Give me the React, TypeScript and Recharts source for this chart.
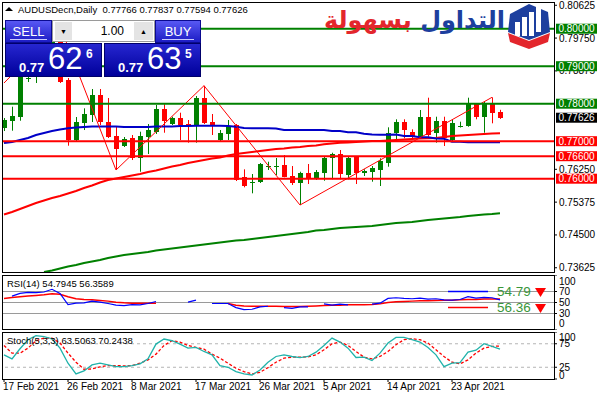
import React from 'react';
import { ComposedChart, Bar, Line, XAxis, YAxis, ReferenceLine } from 'recharts';

const UI = "'Liberation Sans', Arial, sans-serif";

const barDates = [
  '17 Feb 2021', '18 Feb 2021', '19 Feb 2021', '21 Feb 2021', '22 Feb 2021', '23 Feb 2021', '24 Feb 2021', '25 Feb 2021', '26 Feb 2021', '28 Feb 2021',
  '1 Mar 2021', '2 Mar 2021', '3 Mar 2021', '4 Mar 2021', '5 Mar 2021', '7 Mar 2021', '8 Mar 2021', '9 Mar 2021', '10 Mar 2021', '11 Mar 2021',
  '12 Mar 2021', '14 Mar 2021', '15 Mar 2021', '16 Mar 2021', '17 Mar 2021', '18 Mar 2021', '19 Mar 2021', '21 Mar 2021', '22 Mar 2021', '23 Mar 2021',
  '24 Mar 2021', '25 Mar 2021', '26 Mar 2021', '28 Mar 2021', '29 Mar 2021', '30 Mar 2021', '31 Mar 2021', '1 Apr 2021', '2 Apr 2021', '4 Apr 2021',
  '5 Apr 2021', '6 Apr 2021', '7 Apr 2021', '8 Apr 2021', '9 Apr 2021', '11 Apr 2021', '12 Apr 2021', '13 Apr 2021', '14 Apr 2021', '15 Apr 2021',
  '16 Apr 2021', '18 Apr 2021', '19 Apr 2021', '20 Apr 2021', '21 Apr 2021', '22 Apr 2021', '23 Apr 2021', '25 Apr 2021', '26 Apr 2021', '27 Apr 2021',
  '28 Apr 2021', '29 Apr 2021', '30 Apr 2021',
];
const dateTicks = [0, 8, 16, 24, 32, 40, 48, 56];

const open = [
  0.77352, 0.77546, 0.77653, 0.78672, 0.78738, 0.79165, 0.79272, 0.79752, 0.78632, 0.77032,
  0.77485, 0.77698, 0.78232, 0.77512, 0.77138, 0.76872, 0.77085, 0.76544, 0.77120, 0.77253,
  0.77850, 0.77458, 0.77610, 0.77466, 0.77432, 0.78160, 0.77520, 0.77032, 0.77192, 0.77432,
  0.76037, 0.75885, 0.75920, 0.76325, 0.76330, 0.76365, 0.76072, 0.75893, 0.76160, 0.76010,
  0.76160, 0.76544, 0.76658, 0.76098, 0.76570, 0.76144, 0.76186, 0.76232, 0.76426, 0.77226,
  0.77520, 0.77253, 0.77120, 0.77653, 0.77210, 0.77538, 0.77032, 0.77370, 0.77405, 0.77984,
  0.77653, 0.77984, 0.77766,
];
const high = [
  0.77618, 0.77920, 0.78818, 0.78712, 0.79272, 0.79485, 0.79832, 0.80072, 0.78685, 0.77645,
  0.77877, 0.78392, 0.78392, 0.78152, 0.77378, 0.77112, 0.77165, 0.77253, 0.77458, 0.77965,
  0.77984, 0.77653, 0.77760, 0.77565, 0.78205, 0.78480, 0.77725, 0.77298, 0.77565, 0.77458,
  0.76250, 0.76125, 0.76418, 0.76453, 0.76552, 0.76632, 0.76338, 0.76186, 0.76392, 0.76232,
  0.76605, 0.76693, 0.76765, 0.76605, 0.76605, 0.76250, 0.76338, 0.76544, 0.77370, 0.77584,
  0.77584, 0.77317, 0.77832, 0.78160, 0.77653, 0.77653, 0.77565, 0.77520, 0.78160, 0.78010,
  0.78053, 0.78170, 0.77837,
];
const low = [
  0.77272, 0.77280, 0.77546, 0.78578, 0.78552, 0.79005, 0.79112, 0.78552, 0.76880, 0.77005,
  0.77298, 0.77512, 0.77432, 0.77085, 0.76232, 0.76845, 0.76498, 0.76186, 0.76658, 0.77192,
  0.77226, 0.77432, 0.77032, 0.76960, 0.76960, 0.77458, 0.77165, 0.77005, 0.77032, 0.75938,
  0.75770, 0.75610, 0.75885, 0.76232, 0.76098, 0.76037, 0.75832, 0.75298, 0.75858, 0.75965,
  0.75946, 0.75984, 0.75984, 0.75984, 0.75858, 0.76072, 0.75920, 0.75805, 0.76320, 0.77032,
  0.77077, 0.77085, 0.77077, 0.77120, 0.76960, 0.76872, 0.76986, 0.77365, 0.77386, 0.77584,
  0.77226, 0.77477, 0.77594,
];
const close = [
  0.77565, 0.77680, 0.78738, 0.78698, 0.79165, 0.79272, 0.79752, 0.78586, 0.77032, 0.77520,
  0.77725, 0.78232, 0.77512, 0.77120, 0.76784, 0.77058, 0.76544, 0.77138, 0.77298, 0.77850,
  0.77546, 0.77610, 0.77432, 0.77450, 0.78160, 0.77493, 0.77413, 0.77226, 0.77405, 0.75965,
  0.75805, 0.75904, 0.76392, 0.76346, 0.76341, 0.76053, 0.75893, 0.76144, 0.75984, 0.76186,
  0.76544, 0.76658, 0.76125, 0.76544, 0.76160, 0.76213, 0.76277, 0.76480, 0.77226, 0.77520,
  0.77298, 0.77138, 0.77653, 0.77165, 0.77538, 0.77077, 0.77493, 0.77405, 0.77984, 0.77653,
  0.77984, 0.77744, 0.77626,
];

// moving averages (blue fast, red mid, green slow)
const maBlue = [
  0.76952, 0.76978, 0.77032, 0.77085, 0.77165, 0.77218, 0.77272, 0.77312, 0.77344, 0.77365,
  0.77378, 0.77392, 0.77392, 0.77392, 0.77392, 0.77378, 0.77378, 0.77378, 0.77378, 0.77392,
  0.77392, 0.77392, 0.77405, 0.77405, 0.77413, 0.77413, 0.77413, 0.77413, 0.77405, 0.77386,
  0.77352, 0.77344, 0.77344, 0.77344, 0.77338, 0.77298, 0.77298, 0.77298, 0.77298, 0.77298,
  0.77298, 0.77272, 0.77272, 0.77237, 0.77237, 0.77200, 0.77178, 0.77173, 0.77173, 0.77178,
  0.77138, 0.77138, 0.77104, 0.77104, 0.77072, 0.77066, 0.76986, 0.76986, 0.76970, 0.76970,
  0.76970, 0.76970, 0.76970,
];
const maRed = [
  0.75045, 0.75112, 0.75192, 0.75272, 0.75352, 0.75418, 0.75485, 0.75538, 0.75605, 0.75672,
  0.75752, 0.75818, 0.75898, 0.75965, 0.76005, 0.76045, 0.76085, 0.76125, 0.76178, 0.76218,
  0.76272, 0.76325, 0.76365, 0.76418, 0.76458, 0.76498, 0.76538, 0.76565, 0.76618, 0.76658,
  0.76685, 0.76712, 0.76738, 0.76765, 0.76792, 0.76805, 0.76832, 0.76845, 0.76872, 0.76885,
  0.76917, 0.76938, 0.76960, 0.76965, 0.76978, 0.76992, 0.77005, 0.77005, 0.77018, 0.77032,
  0.77045, 0.77058, 0.77072, 0.77077, 0.77085, 0.77112, 0.77138, 0.77152, 0.77165, 0.77178,
  0.77192, 0.77205, 0.77210,
];
const maGreen = [
  null, null, null, null, null, 0.73512, 0.73552, 0.73605, 0.73658, 0.73698,
  0.73752, 0.73792, 0.73832, 0.73885, 0.73925, 0.73965, 0.73992, 0.74018, 0.74045, 0.74085,
  0.74112, 0.74138, 0.74165, 0.74192, 0.74218, 0.74245, 0.74272, 0.74298, 0.74325, 0.74352,
  0.74365, 0.74392, 0.74418, 0.74445, 0.74472, 0.74498, 0.74525, 0.74552, 0.74578, 0.74618,
  0.74632, 0.74658, 0.74685, 0.74698, 0.74712, 0.74725, 0.74738, 0.74765, 0.74792, 0.74818,
  0.74832, 0.74845, 0.74872, 0.74898, 0.74917, 0.74938, 0.74960, 0.74978, 0.75005, 0.75024,
  0.75045, 0.75058, 0.75077,
];
const zigzag = [
  0.78552, null, null, null, null, null, null, 0.80072, null, null,
  null, null, null, null, 0.76232, null, null, null, null, null,
  null, null, null, null, null, 0.78480, null, null, null, null,
  null, null, null, null, null, null, null, 0.75298, null, null,
  null, null, null, null, null, null, null, null, null, null,
  null, null, null, null, null, null, null, null, null, null,
  null, 0.78170, null,
];

const rsi = [
  null, 61.7, 66.6, 68.5, 67.8, 69.1, 74, 66.6, 46.3, 48.8,
  49.4, 52.5, 50.6, 48.2, 45.1, 44.5, 46.3, 45.7, 48.2, 51.8,
  null, null, null, 50.6, 54.3, null, 48.2, 48.2, 48.2, 40.8,
  37.1, 37.7, 42, 43.2, null, 40.8, 39.5, 42, 42, null,
  47.5, 45.1, 46.9, 45.7, null, null, 46.9, 48.8, 57.4, 58.6,
  57.4, 56.8, 58, 56.2, 56.8, 54.9, 54.3, 55.5, 60.5, 58,
  59.2, 58.6, 54.8,
];
const rsiSignal = [
  57.4, 59.2, 60.5, 61.7, 62.9, 64.1, 66, 64.8, 60.5, 56.8,
  55.5, 54.9, 53.7, 52.5, 50.6, 49.4, 48.8, 48.8, 48.8, 48.8,
  null, null, null, null, null, null, null, null, 48.2, 45.1,
  43.8, 43.2, 43.2, 43.2, 43.2, 42.6, 42.6, 42.6, 43.2, 43.8,
  44.5, 45.1, 45.1, 45.7, 45.7, 45.7, 46.3, 47.5, 50, 51.2,
  51.8, 52.5, 53.1, 53.1, 53.7, 54.3, 54.3, 54.9, 55.5, 55.5,
  56.2, 56.2, 56.4,
];
const stochK = [
  51.4, 42.9, 64.3, 83.6, 92.1, 90, 85.7, 65.7, 33.6, 10.7,
  17.1, 30, 33.6, 30, 26.4, 26.4, 28.6, 32.1, 42.9, 74.3,
  85, 81.4, 74.3, 65.7, 67.1, 58.6, 51.4, 28.6, 25, 15.7,
  10.7, 8.6, 19.3, 35.7, 47.9, 51.4, 47.9, 45.7, 47.9, 57.1,
  71.4, 87.1, 78.6, 65.7, 45.7, 46.4, 39.3, 55, 76.4, 88.6,
  88.6, 83.6, 78.6, 67.1, 51.4, 26.4, 33.6, 35, 57.1, 61.4,
  75, 69.3, 63.5,
];
const stochD = [
  71.4, 55, 55, 65.7, 81.4, 87.1, 87.1, 76.4, 55, 35.7,
  20.7, 21.4, 25.7, 28.6, 28.6, 27.9, 28.6, 33.6, 40.7, 52.9,
  71.4, 81.4, 78.6, 71.4, 67.1, 63.6, 52.9, 44.3, 33.6, 22.9,
  15.7, 10.7, 14.3, 24.3, 35.7, 44.3, 46.4, 46.4, 47.1, 51.4,
  62.1, 75, 78.6, 71.4, 58.6, 46.4, 42.9, 47.9, 58.6, 72.9,
  83.6, 85.7, 83.6, 76.4, 62.1, 47.9, 35.7, 32.1, 40.7, 55,
  65.7, 69.3, 70.2,
];

// 0.78000 and 0.77125 sit under the level tags, so they are left out
const priceTicks = [0.73625, 0.745, 0.75375, 0.7625, 0.78875, 0.7975, 0.80625];
const greenLevels = [0.8, 0.79, 0.78];
const redLevels = [0.77, 0.766, 0.76];
const lastPrice = 0.77626;

const rows = barDates.map((d, i) => ({
  i, d,
  o: open[i], h: high[i], l: low[i], c: close[i],
  range: [low[i], high[i]],
  ma1: maBlue[i], ma2: maRed[i], ma3: maGreen[i], zz: zigzag[i],
  rsi: rsi[i], rsiSig: rsiSignal[i], k: stochK[i], dd: stochD[i],
}));

const X_DOMAIN = [-0.25, 68.75];
const P_DOMAIN = [0.73512, 0.80712];

const Candle = (props: any) => {
  const { x, y, width, height, payload } = props;
  if (!payload || height == null) return null;
  const top = Math.min(y, y + height);
  const span = Math.abs(height);
  const k = span / (payload.h - payload.l);
  const col = payload.c >= payload.o ? '#008000' : '#ff0000';
  const cx = Math.round(x + width / 2) + 0.5;
  const bTop = Math.round(top + (payload.h - Math.max(payload.o, payload.c)) * k);
  const bBot = Math.round(top + (payload.h - Math.min(payload.o, payload.c)) * k);
  return (
    <g>
      <line x1={cx} x2={cx} y1={top} y2={top + span} stroke={col} strokeWidth={1} />
      <rect x={cx - 2.5} y={bTop} width={5} height={Math.max(1, bBot - bTop)} fill={col} />
    </g>
  );
};

const PriceTick = ({ x, y, payload }: any) => (
  <text x={x} y={y + 3.5} fontSize={10} fontFamily={UI} fill="#000" textAnchor="start">
    {payload.value.toFixed(5)}
  </text>
);

const levelTick = (max: number, min: number, insetTop: number, insetBottom: number) => ({ x, y, payload }: any) => {
  const v = payload.value;
  const dy = v === max ? insetTop : v === min ? -insetBottom : 0;
  return (
    <text x={x} y={y + dy + 3.5} fontSize={10} fontFamily={UI} fill="#000" textAnchor="start">{v}</text>
  );
};

const DateTick = ({ x, y, payload }: any) => (
  <text x={x - 1} y={y + 7} fontSize={10} fontFamily={UI} fill="#000" textAnchor="start">
    {barDates[payload.value]}
  </text>
);

const tag = (bg: string, value: number) => (p: any) => {
  const vb = p.viewBox;
  const x = vb.x + vb.width + 2;
  const y = vb.y;
  return (
    <g>
      <rect x={x} y={y - 5} width={41} height={10} fill={bg} />
      <text x={x + 20.5} y={y + 3.5} textAnchor="middle" fontSize={10} fontFamily={UI} fill="#fff">
        {value.toFixed(5)}
      </text>
    </g>
  );
};

const frame = (top: number, height: number): React.CSSProperties => ({
  position: 'absolute', left: 2, top, width: 553, height, border: '1px solid #000',
  boxSizing: 'border-box', pointerEvents: 'none',
});

const panelBtn: React.CSSProperties = {
  position: 'absolute', top: 20, height: 23, color: '#fff', fontSize: 13,
  background: 'linear-gradient(#5858f4, #1c1cc4)', display: 'flex', alignItems: 'center',
  justifyContent: 'center', boxSizing: 'border-box', border: '1px solid #0a0a90',
};
const priceBox: React.CSSProperties = {
  position: 'absolute', top: 43, height: 34, background: 'linear-gradient(#2626d0, #00009a)',
  color: '#fff', boxSizing: 'border-box', border: '1px solid #00006a',
};

const BigPrice = ({ left, big, small }: { left: number; big: string; small: string }) => (
  <div style={{ ...priceBox, left, width: 97 }}>
    <span style={{ position: 'absolute', left: 13, top: 16, fontSize: 13, fontWeight: 'bold' }}>0.77</span>
    <span style={{ position: 'absolute', left: 42, top: -3, fontSize: 31 }}>{big}</span>
    <span style={{ position: 'absolute', left: 80, top: 3, fontSize: 12, fontWeight: 'bold' }}>{small}</span>
  </div>
);

export default function App() {
  return (
    <div style={{ position: 'fixed', left: 0, top: 0, width: 600, height: 400, background: '#fff', fontFamily: UI, overflow: 'hidden' }}>
      {/* price window */}
      <div style={{ position: 'absolute', left: 0, top: 0 }}>
        <ComposedChart width={600} height={272} data={rows} margin={{ top: 2, right: 0, bottom: 0, left: 2 }}>
          <XAxis dataKey="i" type="number" domain={X_DOMAIN} hide />
          <YAxis orientation="right" domain={P_DOMAIN} allowDataOverflow width={46} ticks={priceTicks} interval={0}
            tick={<PriceTick />} tickSize={3} tickMargin={2} tickLine={{ stroke: '#000' }} axisLine={false} />
          <Bar dataKey="range" barSize={5} shape={<Candle />} isAnimationActive={false} />
          <Line dataKey="ma3" stroke="#008000" strokeWidth={2} dot={false} isAnimationActive={false} />
          <Line dataKey="ma2" stroke="#ff0000" strokeWidth={2} dot={false} isAnimationActive={false} />
          <Line dataKey="ma1" stroke="#0000c8" strokeWidth={2} dot={false} isAnimationActive={false} />
          <Line dataKey="zz" stroke="#ff0000" strokeWidth={1} dot={false} connectNulls isAnimationActive={false} />
        </ComposedChart>
      </div>
      {/* horizontal levels and price tags */}
      <div style={{ position: 'absolute', left: 0, top: 0 }}>
        <ComposedChart width={600} height={272} data={rows} margin={{ top: 2, right: 0, bottom: 0, left: 2 }}>
          <XAxis dataKey="i" type="number" domain={X_DOMAIN} hide />
          <YAxis orientation="right" domain={P_DOMAIN} allowDataOverflow width={46} tick={false} tickLine={false} axisLine={false} />
          {greenLevels.map((v) => (
            <ReferenceLine key={v} y={v} stroke="#008000" strokeWidth={2} label={tag('#008000', v)} />
          ))}
          {redLevels.map((v) => (
            <ReferenceLine key={v} y={v} stroke="#ff0000" strokeWidth={2} label={tag('#ff0000', v)} />
          ))}
          <ReferenceLine y={lastPrice} stroke="none" label={tag('#000', lastPrice)} />
        </ComposedChart>
      </div>
      <div style={frame(2, 271)} />

      {/* header */}
      <svg style={{ position: 'absolute', left: 5, top: 6 }} width={8} height={6}>
        <polygon points="0,5 4,1 8,5" fill="#000" />
      </svg>
      <div style={{ position: 'absolute', left: 18, top: 4, fontSize: 9.5, lineHeight: '12px', whiteSpace: 'pre', color: '#000' }}>
        {'AUDUSDecn,Daily  0.77766 0.77837 0.77594 0.77626'}
      </div>

      {/* one click trading panel */}
      <div style={{ ...panelBtn, left: 5, width: 47 }}>
        <span style={{ borderBottom: '1px solid #c8c8ff', padding: '0 3px' }}>SELL</span>
      </div>
      <div style={{ position: 'absolute', left: 52, top: 20, width: 103, height: 22, background: '#fff', border: '1px solid #9a9a9a', boxSizing: 'border-box' }}>
        <div style={{ position: 'absolute', left: 2, top: 1, width: 17, height: 18, background: '#e4e4e4', fontSize: 7, display: 'flex', alignItems: 'center', justifyContent: 'center' }}>▼</div>
        <div style={{ position: 'absolute', right: 30, top: 3, fontSize: 12 }}>1.00</div>
        <div style={{ position: 'absolute', right: 1, top: 1, width: 19, height: 18, background: '#e4e4e4', fontSize: 7, display: 'flex', alignItems: 'center', justifyContent: 'center' }}>▲</div>
      </div>
      <div style={{ ...panelBtn, left: 155, width: 46 }}>
        <span style={{ borderBottom: '1px solid #c8c8ff', padding: '0 3px' }}>BUY</span>
      </div>
      <BigPrice left={5} big="62" small="6" />
      <BigPrice left={104} big="63" small="5" />

      {/* brand */}
      <div style={{ position: 'absolute', right: 95, top: 4, direction: 'rtl', fontFamily: "'DejaVu Sans', sans-serif", fontWeight: 'bold', fontSize: 24, lineHeight: '32px', whiteSpace: 'nowrap' }}>
        <span style={{ color: '#1d3f9e' }}>التداول</span> <span style={{ color: '#e3262c' }}>بسهولة</span>
      </div>
      <svg style={{ position: 'absolute', left: 506, top: 2 }} width={46} height={48}>
        <polygon points="4,12 23,2 42,10 44,30 23,38 2,30" fill="#1d3f9e" />
        <rect x={9} y={20} width={5} height={14} fill="#fff" />
        <rect x={16} y={15} width={5} height={19} fill="#fff" />
        <rect x={23} y={10} width={5} height={24} fill="#fff" />
        <rect x={30} y={5} width={5} height={25} fill="#fff" />
        <polygon points="2,31 23,39 44,31 42,40 23,47 4,40" fill="#e3262c" />
      </svg>

      {/* RSI window */}
      <div style={{ position: 'absolute', left: 0, top: 275 }}>
        <ComposedChart width={600} height={55} data={rows} margin={{ top: 0, right: 0, bottom: 0, left: 2 }}>
          <XAxis dataKey="i" type="number" domain={X_DOMAIN} hide />
          <YAxis orientation="right" domain={[0, 100]} width={46} ticks={[0, 30, 50, 70, 100]} interval={0}
            tick={levelTick(100, 0, 6.5, 6.5)} tickSize={3} tickMargin={2} tickLine={{ stroke: '#000' }} axisLine={false} />
          <ReferenceLine y={70} stroke="#9a9a9a" />
          <ReferenceLine y={50} stroke="#9a9a9a" />
          <ReferenceLine y={30} stroke="#9a9a9a" />
          <Line dataKey="rsiSig" stroke="#ff0000" strokeWidth={1.5} dot={false} isAnimationActive={false} />
          <Line dataKey="rsi" stroke="#0000ff" strokeWidth={1.2} dot={false} isAnimationActive={false} />
          <ReferenceLine segment={[{ x: 55.5, y: 70 }, { x: 60.5, y: 70 }]} stroke="#0000ff" strokeWidth={1.5} />
          <ReferenceLine segment={[{ x: 55.5, y: 41 }, { x: 60.5, y: 41 }]} stroke="#ff0000" strokeWidth={1.5} />
        </ComposedChart>
      </div>
      <div style={frame(275, 55)} />
      <div style={{ position: 'absolute', left: 7, top: 278, fontSize: 9.5, lineHeight: '12px', whiteSpace: 'pre' }}>RSI(14) 54.7945 56.3589</div>
      <div style={{ position: 'absolute', left: 497, top: 283, fontSize: 13.5, lineHeight: '17px', color: '#3a963a' }}>54.79</div>
      <div style={{ position: 'absolute', left: 497, top: 299, fontSize: 13.5, lineHeight: '17px', color: '#3a963a' }}>56.36</div>
      <svg style={{ position: 'absolute', left: 535, top: 287 }} width={12} height={26}>
        <polygon points="0,1 11,1 5.5,10" fill="#ff0000" />
        <polygon points="0,17 11,17 5.5,26" fill="#ff0000" />
      </svg>

      {/* Stochastic window */}
      <div style={{ position: 'absolute', left: 0, top: 332 }}>
        <ComposedChart width={600} height={68} data={rows} margin={{ top: 0, right: 0, bottom: 0, left: 2 }}>
          <XAxis dataKey="i" type="number" domain={X_DOMAIN} ticks={dateTicks} interval={0} height={21}
            tick={<DateTick />} tickSize={3} tickMargin={1} tickLine={{ stroke: '#000' }} axisLine={false} />
          <YAxis orientation="right" domain={[0, 100]} width={46} ticks={[0, 25, 75, 100]} interval={0}
            tick={levelTick(100, 0, 5, 3.5)} tickSize={3} tickMargin={2} tickLine={{ stroke: '#000' }} axisLine={false} />
          <ReferenceLine y={75} stroke="#b4b4b4" strokeDasharray="3 3" />
          <ReferenceLine y={25} stroke="#b4b4b4" strokeDasharray="3 3" />
          <Line dataKey="dd" stroke="#ff0000" strokeWidth={1.3} strokeDasharray="3 2" dot={false} isAnimationActive={false} />
          <Line dataKey="k" stroke="#20b2aa" strokeWidth={1.3} dot={false} isAnimationActive={false} />
        </ComposedChart>
      </div>
      <div style={frame(332, 48)} />
      <div style={{ position: 'absolute', left: 7, top: 335, fontSize: 9.5, lineHeight: '12px', whiteSpace: 'pre' }}>Stoch(5,3,3) 63.5063 70.2438</div>
    </div>
  );
}
